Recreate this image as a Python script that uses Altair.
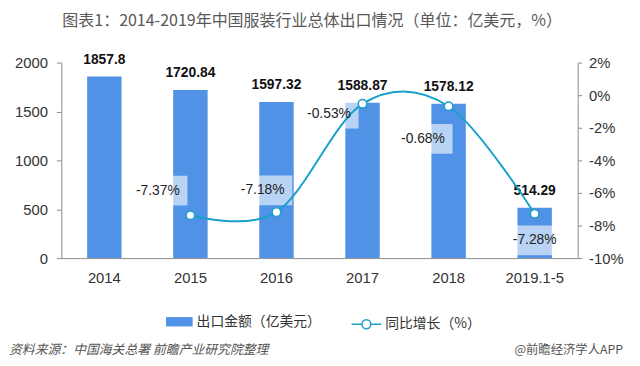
import altair as alt
import pandas as pd

years = ["2014", "2015", "2016", "2017", "2018", "2019.1-5"]
exports = [1857.8, 1720.84, 1597.32, 1588.87, 1578.12, 514.29]
growth = [None, -7.37, -7.18, -0.53, -0.68, -7.28]
growth_labels = ["", "-7.37%", "-7.18%", "-0.53%", "-0.68%", "-7.28%"]

title_text = "图表1：2014-2019年中国服装行业总体出口情况（单位：亿美元，%）"
source_text = "资料来源：中国海关总署 前瞻产业研究院整理"
brand_text = "@前瞻经济学人APP"
bar_series = "出口金额（亿美元）"
line_series = "同比增长（%）"

# label offsets (styling): dx, dy relative to the point
label_off = {"2015": (-33, -25), "2016": (-14, -22), "2017": (-34, 10),
             "2018": (-26, 33), "2019.1-5": (0, 27)}

df = pd.DataFrame({"year": years, "exports": exports, "growth": growth,
                   "glabel": growth_labels})

BAR = "#5092e6"
LINE = "#1ba0c9"
AX = "#8c8c8c"
TXT = "#333333"
NUM_FONT = "Liberation Sans"
CJK_FONT = "Noto Sans CJK SC"

x_enc = alt.X("year:N", sort=years, title=None,
              scale=alt.Scale(paddingInner=0.6, paddingOuter=0.3),
              axis=alt.Axis(labelAngle=0, ticks=False, domainColor=AX,
                            labelFont=NUM_FONT, labelFontSize=15,
                            labelColor=TXT, labelPadding=13))

y_left = alt.Y("exports:Q", title=None,
               scale=alt.Scale(domain=[0, 2000], nice=False),
               axis=alt.Axis(values=[0, 500, 1000, 1500, 2000], grid=False,
                             format="d",
                             domainColor=AX, tickColor=AX, tickSize=5,
                             labelFont=NUM_FONT, labelFontSize=15,
                             labelColor=TXT, labelPadding=9))

y_right = alt.Y("growth:Q", title=None,
                scale=alt.Scale(domain=[-10, 2], nice=False),
                axis=alt.Axis(orient="right", values=[-10, -8, -6, -4, -2, 0, 2],
                              labelExpr="datum.value + '%'", grid=False,
                              domainColor=AX, tickColor=AX, tickSize=4,
                              labelFont=NUM_FONT, labelFontSize=15,
                              labelColor=TXT, labelPadding=7))

base = alt.Chart(df)

bars = base.transform_calculate(s=f"'{bar_series}'").mark_bar().encode(
    x=x_enc, y=y_left,
    color=alt.Color("s:N", scale=alt.Scale(range=[BAR]),
                    legend=alt.Legend(title=None, orient="none", legendX=106,
                                      legendY=249, padding=0,
                                      symbolType="M-1,-0.35L1,-0.35L1,0.35L-1,0.35Z",
                                      symbolSize=729, symbolStrokeWidth=0,
                                      labelFont=CJK_FONT, labelFontSize=14,
                                      labelColor=TXT, labelOffset=4)))

bar_labels = base.mark_text(font=NUM_FONT, fontSize=14, fontWeight="bold",
                            color="#111111", dy=-17).encode(
    x=x_enc, y=y_left, text=alt.Text("exports:Q", format=".2~f"))

left_layer = alt.layer(bars, bar_labels)

gbase = base.transform_filter("datum.growth != null")

line = gbase.transform_calculate(s2=f"'{line_series}'").mark_line(
    interpolate="cardinal", strokeWidth=2).encode(
    x=x_enc, y=y_right,
    stroke=alt.Stroke("s2:N", scale=alt.Scale(range=[LINE]),
                      legend=alt.Legend(title=None, orient="none", legendX=293,
                                        legendY=249, padding=0,
                                        symbolType="M-1,0L-0.3,0M0.3,0L1,0M-0.3,0A0.3,0.3 0 1,1 0.3,0A0.3,0.3 0 1,1 -0.3,0",
                                        symbolSize=900, symbolStrokeWidth=1.5,
                                        symbolFillColor="white",
                                        labelFont=CJK_FONT, labelFontSize=14,
                                        labelColor=TXT, labelOffset=3)))

points = gbase.mark_point(filled=True, fill="white", stroke=LINE,
                          strokeWidth=1.5, size=75, opacity=1).encode(
    x=x_enc, y=y_right)

boxes = []
labels = []
for yr, (dx, dy) in label_off.items():
    sub = gbase.transform_filter(alt.datum.year == yr)
    boxes.append(sub.mark_point(shape="M-1,-0.58L1,-0.58L1,0.58L-1,0.58Z",
                                filled=True, fill="white", fillOpacity=0.6,
                                strokeWidth=0, size=2704,
                                xOffset=dx + 4, yOffset=dy).encode(
        x=x_enc, y=y_right))
    labels.append(sub.mark_text(font=NUM_FONT, fontSize=14, color="#222222",
                                dx=dx, dy=dy).encode(
        x=x_enc, y=y_right, text="glabel:N"))

right_layer = alt.layer(*boxes, line, points, *labels)

footer = alt.Chart(pd.DataFrame({"t": [source_text]})).mark_text(
    align="left", baseline="middle", font=CJK_FONT, fontSize=13,
    fontStyle="italic", color="#555555").encode(
    text="t:N", x=alt.value(-53), y=alt.value(291))

brand = alt.Chart(pd.DataFrame({"t": [brand_text]})).mark_text(
    align="right", baseline="middle", font=CJK_FONT, fontSize=12.5,
    color="#555555").encode(
    text="t:N", x=alt.value(569), y=alt.value(291))

chart = alt.layer(left_layer, right_layer, footer, brand).resolve_scale(
    y="independent").properties(
    width=523, height=198,
    autosize=alt.AutoSizeParams(type="none"),
    padding={"left": 54, "top": 53, "right": 55, "bottom": 107},
    title=alt.TitleParams(title_text, anchor="start", frame="group",
                          font=CJK_FONT, fontSize=16.2, fontWeight="normal",
                          color="#595959", offset=24, dx=1)
).configure_view(stroke=None)

chart.save("out.html", embed_options={"renderer": "svg", "actions": False})
